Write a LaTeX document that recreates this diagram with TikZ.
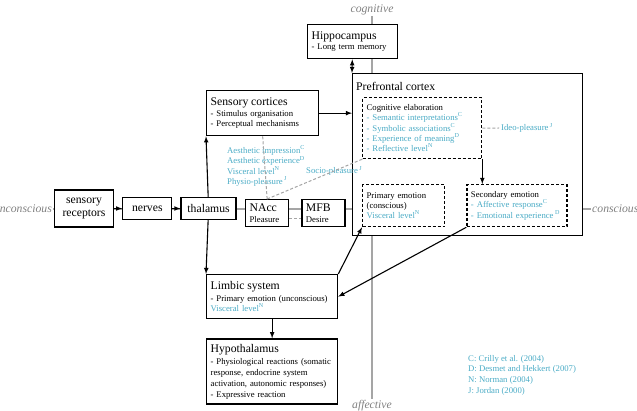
\documentclass[tikz,border=0pt]{standalone}
\usepackage{fontspec}
\setmainfont{Liberation Serif}
\usepackage{tikz}
\usetikzlibrary{arrows, positioning}

\definecolor{citeblue}{RGB}{75,172,198}
\definecolor{axisgray}{RGB}{165,165,165}
\newcommand{\headfont}{\fontsize{11.7}{13}\selectfont}
\newcommand{\notefont}{\fontsize{8.7}{10.3}\selectfont}
\newcommand{\srcmark}[1]{\textsuperscript{#1}}

\begin{document}
\begin{tikzpicture}[
        x=1pt, y=-1pt,
        box/.style={draw, line width=1.3pt, fill=white, anchor=north west,
            inner xsep=4pt, inner ysep=2pt, align=left, font=\notefont},
        dashbox/.style={box, dash pattern=on 3pt off 2pt},
        unit/.style={draw, line width=1.3pt, fill=white, align=center,
            font=\headfont, inner sep=1pt},
        axis/.style={draw=axisgray, line width=1.2pt},
        pole/.style={text=gray, font=\headfont\itshape, inner sep=1pt},
        arrow/.style={->, >=latex, line width=1.1pt},
        pleasure/.style={draw=axisgray, line width=1pt, dash pattern=on 3pt off 2pt},
        cite/.style={text=citeblue, font=\notefont, align=left, inner sep=2pt}
    ]
    \useasboundingbox (0,0) rectangle (637,411);

    % Axes
    \node[pole, anchor=south] (cog) at (372,16) {cognitive};
    \node[pole, anchor=north] (aff) at (372,399) {affective};
    \node[pole, anchor=east] (uncon) at (53,209) {unconscious};
    \node[pole, anchor=west] (con) at (591,209) {conscious};
    \draw[axis] (cog) -- (aff);
    \draw[axis] (uncon) -- (con);

    % Brain areas
    \node[box, text width=82pt, minimum height=34pt] (hip) at (307,24)
        {{\headfont Hippocampus}\\ - Long term memory};
    \node[box, minimum width=230pt, minimum height=162pt] (pfc) at (352,73) {};
    \node[anchor=west, font=\headfont, inner sep=3pt] (pfctitle) at (353,86) {Prefrontal cortex};
    \node[box, text width=104pt, minimum height=45pt] (sc) at (206,90)
        {{\headfont Sensory cortices}\\[1pt] - Stimulus organisation\\ - Perceptual mechanisms};
    \node[dashbox, text width=111pt, minimum height=61pt] (cogel) at (362,97)
        {Cognitive elaboration\\ \color{citeblue}- Semantic interpretations\srcmark{C}\\
         - Symbolic associations\srcmark{C}\\ - Experience of meaning\srcmark{D}\\
         - Reflective level\srcmark{N}};
    \node[dashbox, text width=74pt, minimum height=42pt] (prim) at (362,184)
        {Primary emotion\\ (conscious)\\ \color{citeblue}Visceral level\srcmark{N}};
    \node[dashbox, text width=92pt, minimum height=42pt, right=21pt of prim] (sec)
        {Secondary emotion\\ \color{citeblue}- Affective response\srcmark{C}\\
         - Emotional experience\,\srcmark{D}};

    % Pathway
    \node[unit, minimum width=59pt, minimum height=37pt] (rec) at (84,208.5) {sensory\\receptors};
    \node[unit, minimum width=49pt, minimum height=22pt, right=8pt of rec] (nrv) {nerves};
    \node[unit, minimum width=55pt, minimum height=22pt, right=8pt of nrv] (thal) {thalamus};
    \node[box, text width=35pt, minimum height=27pt] (nacc) at (245,199)
        {{\headfont NAcc}\\ Pleasure};
    \node[box, text width=35pt, minimum height=27pt, right=12pt of nacc] (mfb)
        {{\headfont MFB}\\ Desire};
    \node[box, text width=123pt, minimum height=44pt] (limb) at (206,274)
        {{\headfont Limbic system}\\[1pt] - Primary emotion (unconscious)\\
         \color{citeblue}Visceral level\srcmark{N}};
    \node[box, text width=123pt, minimum height=65pt, below=19pt of limb,
        font=\fontsize{8.7}{11}\selectfont] (hypo)
        {{\headfont Hypothalamus}\\[1pt] - Physiological reactions (somatic\\
         response, endocrine system\\ activation, autonomic responses)\\
         - Expressive reaction};

    % Arrows
    \draw[arrow] (rec) -- (nrv);
    \draw[arrow] (nrv) -- (thal);
    \draw[arrow] (thal) -- (sc.south west);
    \draw[arrow] (thal) -- (limb.north west);
    \draw[arrow] (limb) -- (hypo);
    \draw[arrow] (sc) -- (sc -| pfc.west);
    \draw[arrow, <->] (hip) -- (pfc.north west);
    \draw[arrow] (cogel.south east) -- (cogel.south east |- sec.north);
    \draw[arrow] (limb.north east) -- (prim.south west);
    \draw[arrow] (sec.south west) -- (limb.east);

    % Pleasure labels
    \node[cite, anchor=west] (aesth) at (225,166)
        {Aesthetic impression\srcmark{C}\\ Aesthetic experience\srcmark{D}\\
         Visceral level\srcmark{N}\\ Physio-pleasure\,\srcmark{J}};
    \node[cite, anchor=west] (socio) at (304,171) {Socio-pleasure\,\srcmark{J}};
    \node[cite, anchor=west] (ideo) at (499,128) {Ideo-pleasure\,\srcmark{J}};
    \draw[pleasure] (sc.south) -- (nacc.north);
    \draw[pleasure] (nacc.north) -- (cogel.south west);
    \draw[pleasure] ([yshift=-5.5pt]nacc.east) -- ([yshift=-5.5pt]mfb.west);
    \draw[pleasure] (cogel.east) -- (ideo.west);

    % Sources
    \node[cite, anchor=west, font=\fontsize{8.7}{10.7}\selectfont] (legend) at (466,375)
        {C: Crilly et al. (2004)\\ D: Desmet and Hekkert (2007)\\
         N: Norman (2004)\\ J: Jordan (2000)};
\end{tikzpicture}
\end{document}
